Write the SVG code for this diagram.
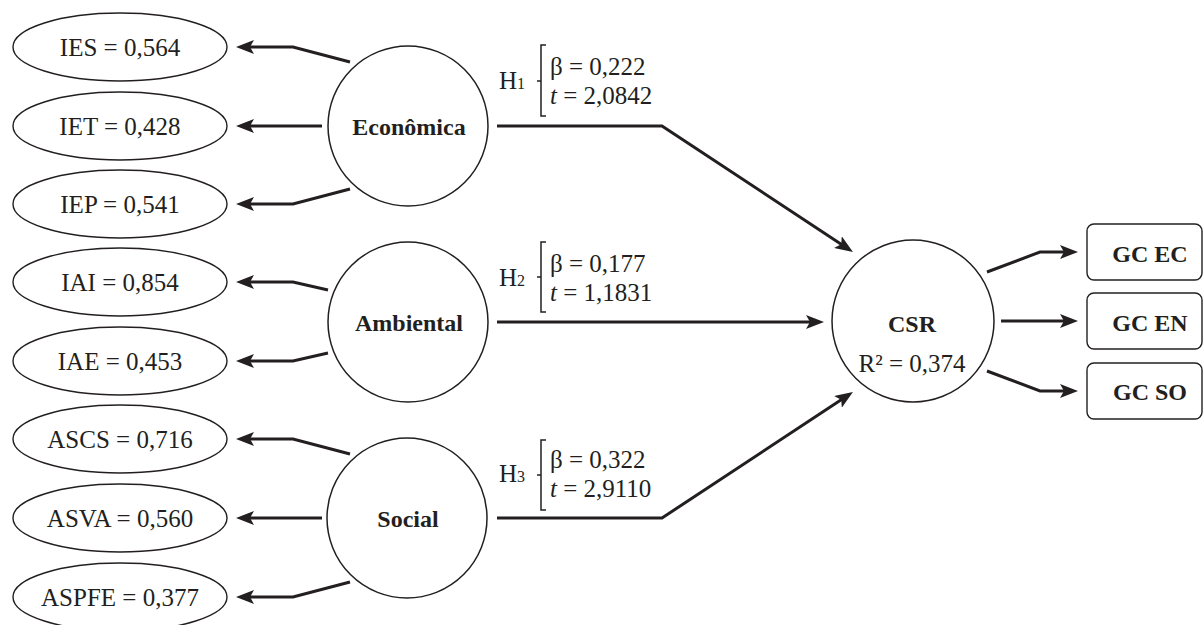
<svg xmlns="http://www.w3.org/2000/svg" width="1204" height="625" viewBox="0 0 1204 625">
<style>
  text { font-family: "Liberation Serif", "Times New Roman", serif; fill: #231f20; }
  .t { font-size: 25px; text-anchor: middle; }
  .b { font-size: 24px; font-weight: bold; text-anchor: middle; }
  .lab { font-size: 25px; }
  .sub { font-size: 16px; }
  .ell { fill: #fff; stroke: #231f20; stroke-width: 1.4; }
  .circ { fill: #fff; stroke: #231f20; stroke-width: 1.5; }
  .box { fill: #fff; stroke: #231f20; stroke-width: 1.4; }
  .con { fill: none; stroke: #231f20; stroke-width: 3; stroke-linejoin: miter; marker-end: url(#ah); }
  .br { fill: none; stroke: #231f20; stroke-width: 1.5; }
</style>
<defs>
  <marker id="ah" markerUnits="userSpaceOnUse" markerWidth="18" markerHeight="14" viewBox="0 0 18 14" refX="8" refY="7" orient="auto">
    <path d="M0,0 L18,7 L0,14 L4,7 z" fill="#231f20"/>
  </marker>
</defs>
<rect width="1204" height="625" fill="#fff"/>

<g id="connectors">
  <path class="con" d="M350,62 L293,47 L246,47"/>
  <path class="con" d="M322,126 L246,126"/>
  <path class="con" d="M350,189 L293,204 L246,204"/>
  <path class="con" d="M328,290 L293,282 L246,282"/>
  <path class="con" d="M328,353 L293,361 L246,361"/>
  <path class="con" d="M350,454 L293,439 L246,439"/>
  <path class="con" d="M322,518 L246,518"/>
  <path class="con" d="M350,582 L293,597 L246,597"/>
  <path class="con" d="M497,126 L662,126 L844.6,246.5"/>
  <path class="con" d="M497,322 L814,322"/>
  <path class="con" d="M497,518 L662,518 L844.6,397.5"/>
  <path class="con" d="M987,272 L1040,252 L1068,252"/>
  <path class="con" d="M1001,321 L1068,321"/>
  <path class="con" d="M987,371 L1040,391 L1068,391"/>
</g>

<g id="lbl-h1">
  <text class="lab" x="499" y="89">H<tspan class="sub">1</tspan></text>
  <path class="br" d="M546,45 L541,45 L541,116 L546,116 M541,81 L537,81"/>
  <text class="lab" x="550" y="75">β = 0,222</text>
  <text class="lab" x="550" y="104"><tspan font-style="italic">t</tspan> = 2,0842</text>
</g>
<g id="lbl-h2">
  <text class="lab" x="499" y="286">H<tspan class="sub">2</tspan></text>
  <path class="br" d="M546,242 L541,242 L541,312 L546,312 M541,277 L537,277"/>
  <text class="lab" x="550" y="272">β = 0,177</text>
  <text class="lab" x="550" y="301"><tspan font-style="italic">t</tspan> = 1,1831</text>
</g>
<g id="lbl-h3">
  <text class="lab" x="499" y="482">H<tspan class="sub">3</tspan></text>
  <path class="br" d="M546,440 L541,440 L541,510 L546,510 M541,475 L537,475"/>
  <text class="lab" x="550" y="468">β = 0,322</text>
  <text class="lab" x="550" y="497"><tspan font-style="italic">t</tspan> = 2,9110</text>
</g>

<g id="ies"><ellipse class="ell" cx="120" cy="47" rx="107" ry="34"/><text class="t" x="120" y="56">IES = 0,564</text></g>
<g id="iet"><ellipse class="ell" cx="120" cy="126" rx="107" ry="34"/><text class="t" x="120" y="135">IET = 0,428</text></g>
<g id="iep"><ellipse class="ell" cx="120" cy="204" rx="107" ry="34"/><text class="t" x="120" y="213">IEP = 0,541</text></g>
<g id="iai"><ellipse class="ell" cx="120" cy="282" rx="107" ry="34"/><text class="t" x="120" y="291">IAI = 0,854</text></g>
<g id="iae"><ellipse class="ell" cx="120" cy="361" rx="107" ry="34"/><text class="t" x="120" y="370">IAE = 0,453</text></g>
<g id="ascs"><ellipse class="ell" cx="120" cy="439" rx="107" ry="34"/><text class="t" x="120" y="448">ASCS = 0,716</text></g>
<g id="asva"><ellipse class="ell" cx="120" cy="518" rx="107" ry="34"/><text class="t" x="120" y="527">ASVA = 0,560</text></g>
<g id="aspfe"><ellipse class="ell" cx="120" cy="597" rx="107" ry="34"/><text class="t" x="120" y="606">ASPFE = 0,377</text></g>

<g id="economica"><circle class="circ" cx="408" cy="126" r="80"/><text class="b" x="409" y="135">Econômica</text></g>
<g id="ambiental"><circle class="circ" cx="408" cy="322" r="80"/><text class="b" x="409" y="331">Ambiental</text></g>
<g id="social"><circle class="circ" cx="407" cy="518" r="80"/><text class="b" x="408" y="527">Social</text></g>

<g id="csr"><circle class="circ" cx="913" cy="321" r="81"/><text class="b" x="912" y="332">CSR</text><text class="t" x="912" y="372">R² = 0,374</text></g>

<g id="gcec"><rect class="box" x="1087" y="224" width="115" height="56" rx="7"/><text class="b" x="1150" y="262">GC EC</text></g>
<g id="gcen"><rect class="box" x="1087" y="293" width="115" height="56" rx="7"/><text class="b" x="1150" y="331">GC EN</text></g>
<g id="gcso"><rect class="box" x="1087" y="363" width="115" height="56" rx="7"/><text class="b" x="1150" y="400">GC SO</text></g>
</svg>
